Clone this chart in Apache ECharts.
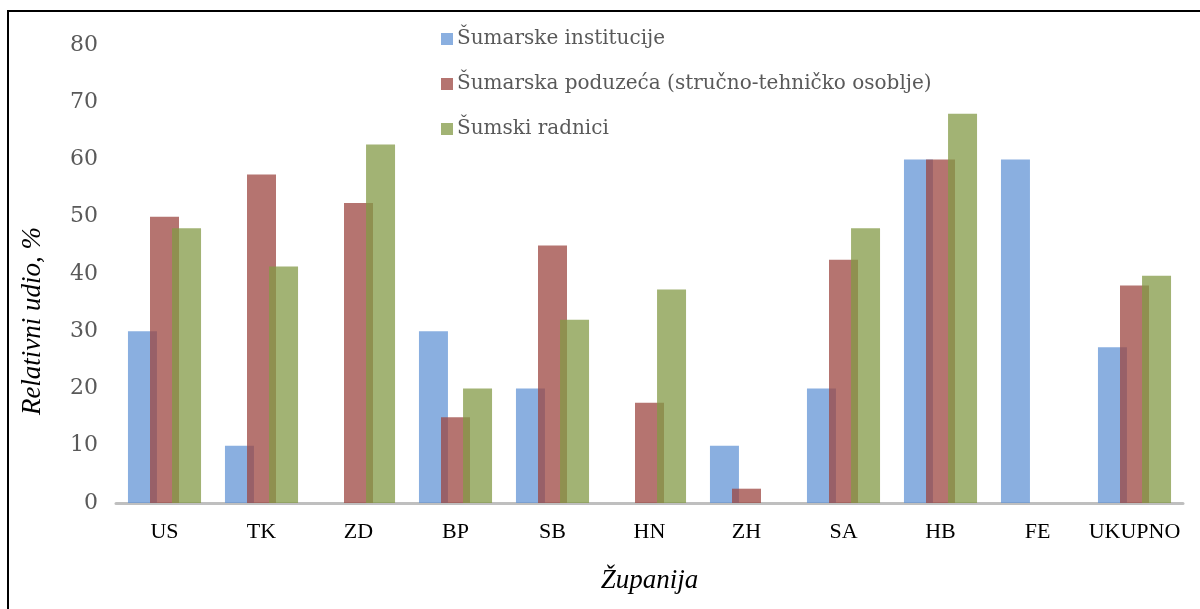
<!DOCTYPE html>
<html>
<head>
<meta charset="utf-8">
<script src="https://cdn.jsdelivr.net/npm/echarts@6/dist/echarts.min.js"></script>
<style>
html,body{margin:0;padding:0;background:#fff;}
#c{width:1200px;height:609px;}
</style>
</head>
<body>
<div id="c"></div>
<script>
const categories = ['US','TK','ZD','BP','SB','HN','ZH','SA','HB','FE','UKUPNO'];
const seriesNames = ['Šumarske institucije','Šumarska poduzeća (stručno-tehničko osoblje)','Šumski radnici'];
const institucije = [30, 10, 0, 30, 20, 0, 10, 20, 60, 60, 27.2];
const poduzeca    = [50, 57.4, 52.4, 15, 45, 17.5, 2.5, 42.5, 60, 0, 38];
const radnici     = [48, 41.3, 62.6, 20, 32, 37.3, 0, 48, 68, 0, 39.7];
const yTicks = [0,10,20,30,40,50,60,70,80];
const xTitle = 'Županija';
const yTitle = 'Relativni udio, %';

const colors = ['rgb(99,148,214)','rgb(156,70,64)','rgb(131,154,70)'];
const serif = '"DejaVu Serif", serif';
const times = '"Liberation Serif", serif';

const chart = echarts.init(document.getElementById('c'), null, {renderer:'canvas'});
const values = [institucije, poduzeca, radnici];
chart.setOption({
  animation:false,
  backgroundColor:'#fff',
  graphic:[
    {type:'rect', shape:{x:8,y:11,width:1220,height:640}, style:{fill:'none', stroke:'#000', lineWidth:2}, silent:true, z:100},
    {type:'text', x:33, y:321, rotation:Math.PI/2, silent:true,
     style:{text:yTitle, fontFamily:times, fontStyle:'italic', fontSize:27, fill:'#000', align:'center', verticalAlign:'middle'}}
  ],
  legend:{
    orient:'vertical', left:436, top:24,
    itemWidth:12, itemHeight:12, itemGap:25,
    icon:'rect',
    textStyle:{fontFamily:serif, fontSize:20, color:'#595959', padding:[0,0,0,-1]},
    data:seriesNames
  },
  grid:{left:116, right:17, top:45, bottom:106, containLabel:false},
  xAxis:{
    type:'category', data:categories,
    axisLine:{show:true, lineStyle:{color:'#bfbfbf', width:3}},
    axisTick:{show:false},
    axisLabel:{interval:0, fontFamily:times, fontSize:22, color:'#000', margin:18},
    name:xTitle, nameLocation:'middle', nameGap:64,
    nameTextStyle:{fontFamily:times, fontStyle:'italic', fontSize:27, color:'#000'}
  },
  yAxis:{
    type:'value', min:yTicks[0], max:yTicks[yTicks.length-1], interval:10,
    axisLine:{show:false}, axisTick:{show:false},
    splitLine:{show:false},
    axisLabel:{fontFamily:serif, fontSize:22, color:'#595959', margin:18}
  },
  series: seriesNames.map((n,i)=>({
    name:n, type:'bar', data:values[i],
    barWidth:29, barGap:'-24%',
    itemStyle:{color:colors[i], opacity:0.75}
  }))
});
</script>
</body>
</html>
